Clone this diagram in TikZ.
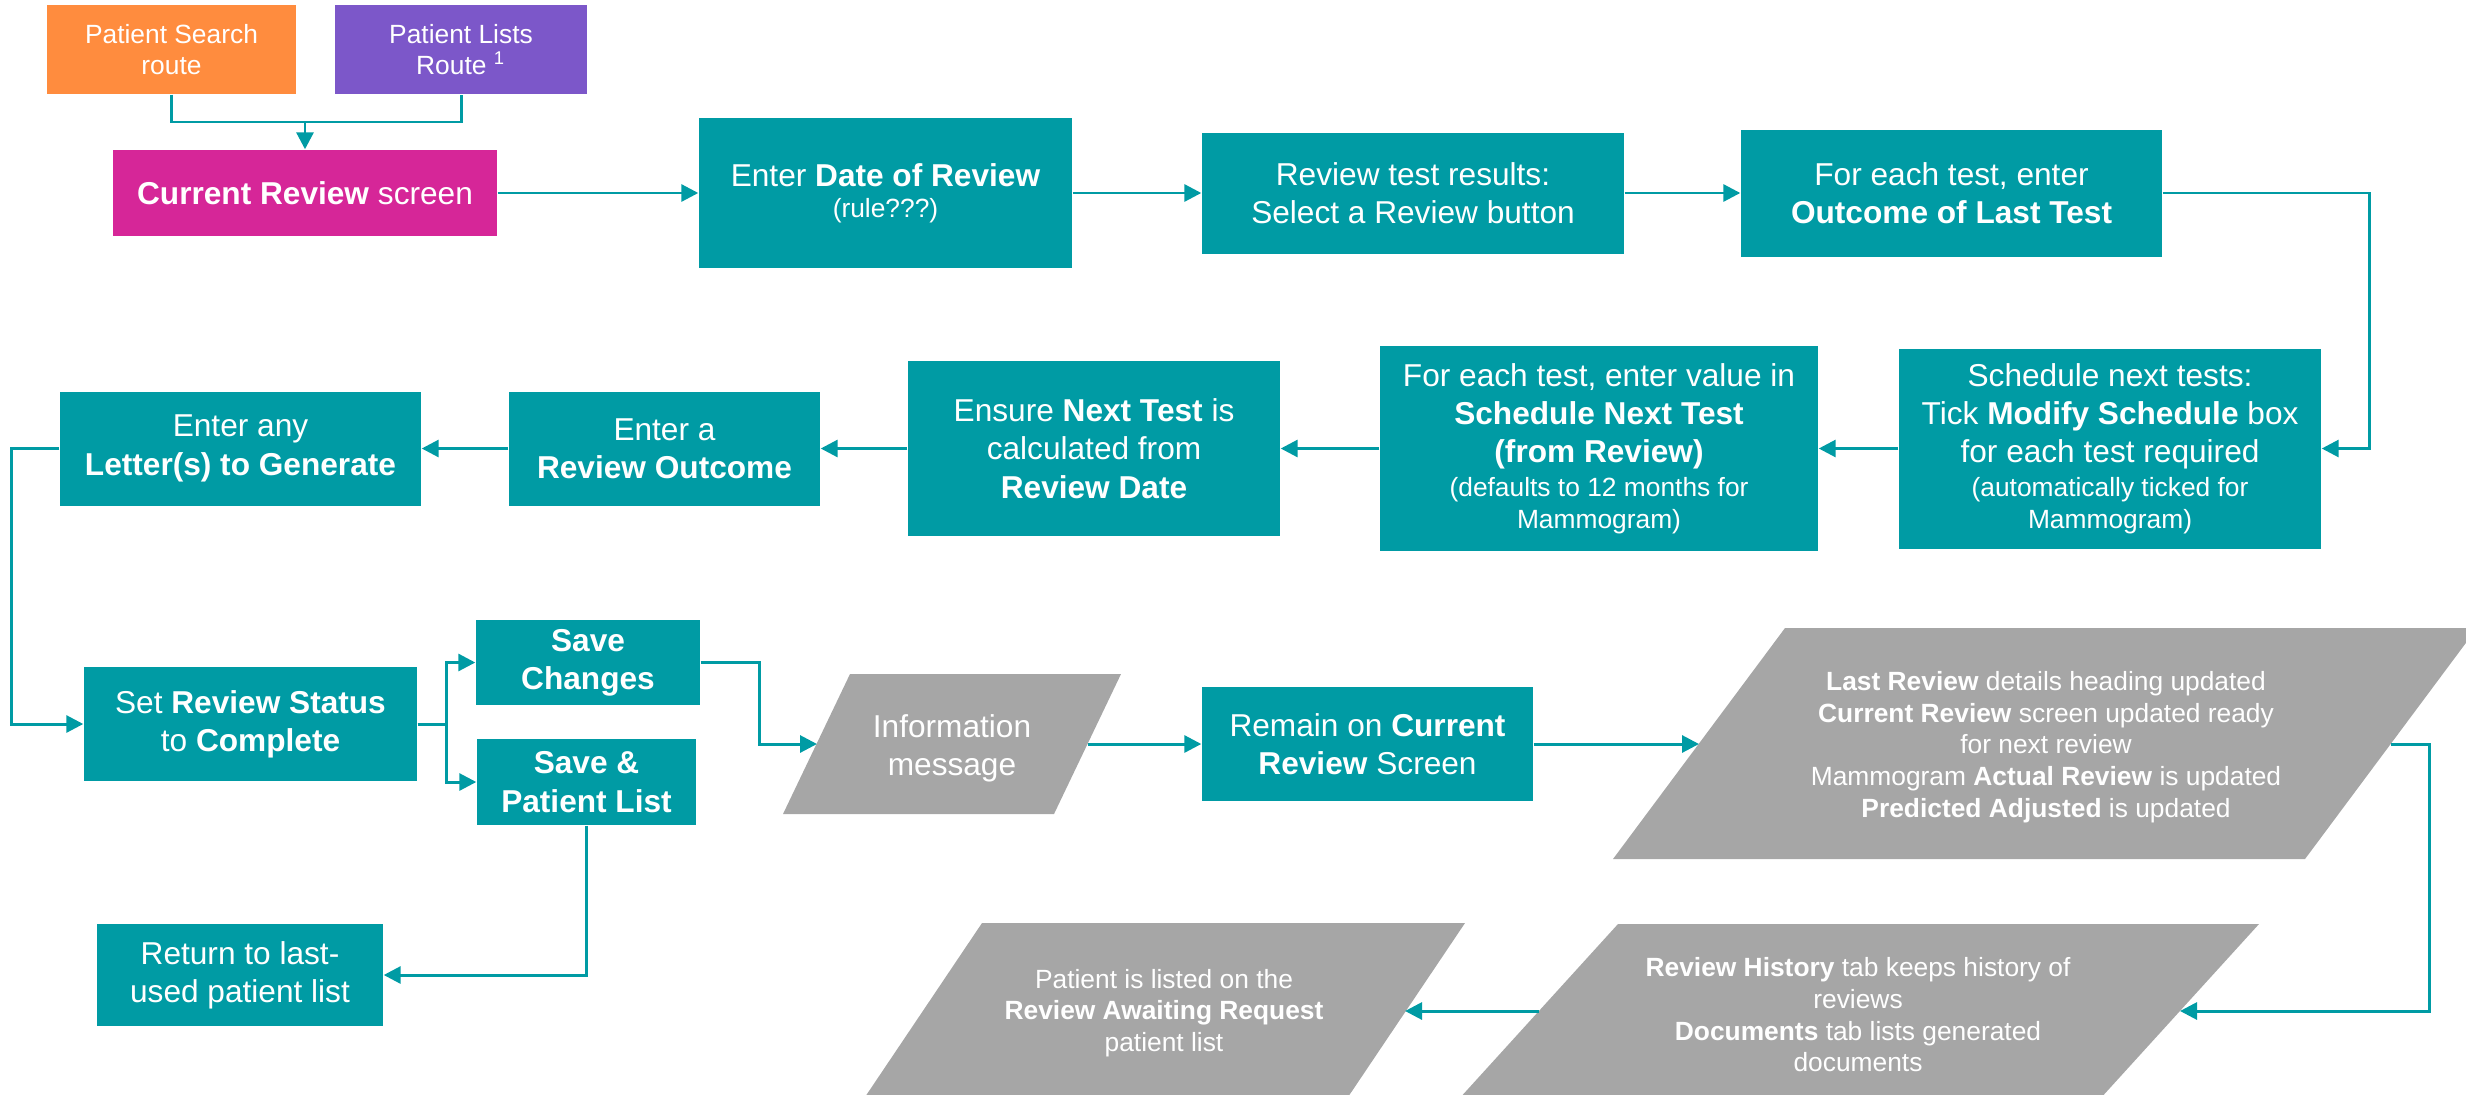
\documentclass[tikz,border=0pt]{standalone}
\usepackage{fontspec}
\setmainfont{Liberation Sans}
\usetikzlibrary{arrows.meta}

\definecolor{flowteal}{RGB}{0,155,164}
\definecolor{routeorange}{RGB}{255,140,62}
\definecolor{routepurple}{RGB}{124,87,201}
\definecolor{screenpink}{RGB}{214,38,152}
\definecolor{msggray}{RGB}{166,166,166}
\newcommand{\smallfont}{\fontsize{7.5}{9}\selectfont}

\begin{document}
\begin{tikzpicture}
\tikzstyle{every node}=[inner sep=0pt,align=center,text=white,font=\fontsize{9}{10.9}\selectfont];
\tikzstyle{box}=[fill=flowteal];
\tikzstyle{link}=[flowteal,line width=0.85pt,-{Triangle[length=1.7mm,width=1.7mm]}];
\tikzstyle{plain}=[flowteal,line width=0.85pt];
\useasboundingbox (0,0) rectangle (24.66,-10.94);

\node[fill=routeorange,minimum width=2.49cm,minimum height=0.89cm,font=\smallfont](PS) at(1.715,-0.495){Patient Search\\route};
\node[fill=routepurple,minimum width=2.52cm,minimum height=0.89cm,font=\smallfont](PL) at(4.61,-0.495){Patient Lists\\Route \textsuperscript{1}};
\node[fill=screenpink,minimum width=3.84cm,minimum height=0.86cm](CR) at(3.05,-1.93){\textbf{Current Review} screen};

\node[box,minimum width=3.73cm,minimum height=1.50cm](DR) at(8.855,-1.93){Enter \textbf{Date of Review}\\[-2.2pt]{\smallfont (rule???)}};
\node[box,minimum width=4.22cm,minimum height=1.21cm](RT) at(14.13,-1.93){Review test results:\\Select a Review button};
\node[box,minimum width=4.21cm,minimum height=1.27cm](OC) at(19.515,-1.93){For each test, enter\\\textbf{Outcome of Last Test}};

\node[box,minimum width=4.22cm,minimum height=2.00cm](SC) at(21.10,-4.485){Schedule next tests:\\Tick \textbf{Modify Schedule} box\\for each test required\\[-1.3pt]{\smallfont (automatically ticked for}\\[-1.8pt]{\smallfont Mammogram)}};
\node[box,minimum width=4.38cm,minimum height=2.05cm](VB) at(15.99,-4.485){For each test, enter value in\\\textbf{Schedule Next Test}\\\textbf{(from Review)}\\[-1.3pt]{\smallfont (defaults to 12 months for}\\[-1.8pt]{\smallfont Mammogram)}};
\node[box,minimum width=3.72cm,minimum height=1.75cm](EN) at(10.94,-4.485){Ensure \textbf{Next Test} is\\calculated from\\\textbf{Review Date}};
\node[box,minimum width=3.11cm,minimum height=1.14cm](RO) at(6.645,-4.485){Enter a\\\textbf{Review Outcome}};
\node[box,minimum width=3.61cm,minimum height=1.14cm](LG) at(2.405,-4.485){Enter any\\\textbf{Letter(s) to Generate}};

\node[box,minimum width=3.33cm,minimum height=1.14cm](ST) at(2.505,-7.24){Set \textbf{Review Status}\\to \textbf{Complete}};
\node[box,minimum width=2.24cm,minimum height=0.85cm](SV) at(5.88,-6.625){\textbf{Save}\\\textbf{Changes}};
\node[box,minimum width=2.19cm,minimum height=0.86cm](SP) at(5.865,-7.82){\textbf{Save \&}\\\textbf{Patient List}};
\node[box,minimum width=2.86cm,minimum height=1.02cm](RL) at(2.40,-9.75){Return to last-\\used patient list};
\node[box,minimum width=3.31cm,minimum height=1.14cm](RM) at(13.675,-7.44){Remain on \textbf{Current}\\\textbf{Review} Screen};

\fill[msggray] (8.50,-6.74) -- (11.21,-6.74) -- (10.54,-8.14) -- (7.83,-8.14) -- cycle;
\fill[msggray] (17.85,-6.28) -- (24.77,-6.28) -- (23.05,-8.59) -- (16.13,-8.59) -- cycle;
\fill[msggray] (16.18,-9.24) -- (22.59,-9.24) -- (20.99,-11.00) -- (14.58,-11.00) -- cycle;
\fill[msggray] (9.82,-9.23) -- (14.65,-9.23) -- (13.46,-11.00) -- (8.63,-11.00) -- cycle;

\node(IM) at(9.52,-7.48){Information\\message};
\node[font=\smallfont](UP) at(20.46,-7.47){\textbf{Last Review} details heading updated\\\textbf{Current Review} screen updated ready\\for next review\\Mammogram \textbf{Actual Review} is updated\\\textbf{Predicted Adjusted} is updated};
\node[font=\smallfont](RH) at(18.58,-10.15){\textbf{Review History} tab keeps history of\\reviews\\\textbf{Documents} tab lists generated\\documents};
\node[font=\smallfont](PA) at(11.64,-10.13){Patient is listed on the\\\textbf{Review Awaiting Request}\\patient list};

\coordinate (M) at(3.05,-1.22);
\coordinate (IMw) at(8.17,-7.44);
\coordinate (IMe) at(10.88,-7.44);
\coordinate (UPw) at(16.99,-7.44);
\coordinate (UPe) at(23.91,-7.44);
\coordinate (RHe) at(21.80,-10.11);
\coordinate (RHw) at(15.39,-10.11);
\coordinate (PAe) at(14.05,-10.11);

\draw[plain] (PS.south) |- (M) -| (PL.south);
\draw[link] (M)-- (CR.north);
\draw[link] (CR.east)-- (DR.west);
\draw[link] (DR.east)-- (RT.west);
\draw[link] (RT.east)-- (OC.west);
\draw[link] (OC.east)-- ++(2.07,0) |- (SC.east);
\draw[link] (SC.west)-- (VB.east);
\draw[link] (VB.west)-- (EN.east);
\draw[link] (EN.west)-- (RO.east);
\draw[link] (RO.west)-- (LG.east);
\draw[link] (LG.west)-- ++(-0.48,0) |- (ST.west);
\draw[link] (ST.east)-- ++(0.29,0) |- (SV.west);
\draw[link] (ST.east)-- ++(0.29,0) |- (SP.west);
\draw[link] (SV.east)-- ++(0.59,0) |- (IMw);
\draw[link] (IMe)-- (RM.west);
\draw[link] (RM.east)-- (UPw);
\draw[link] (UPe)-- ++(0.38,0) |- (RHe);
\draw[link] (RHw)-- (PAe);
\draw[link] (SP.south) |- (RL.east);

\end{tikzpicture}
\end{document}
